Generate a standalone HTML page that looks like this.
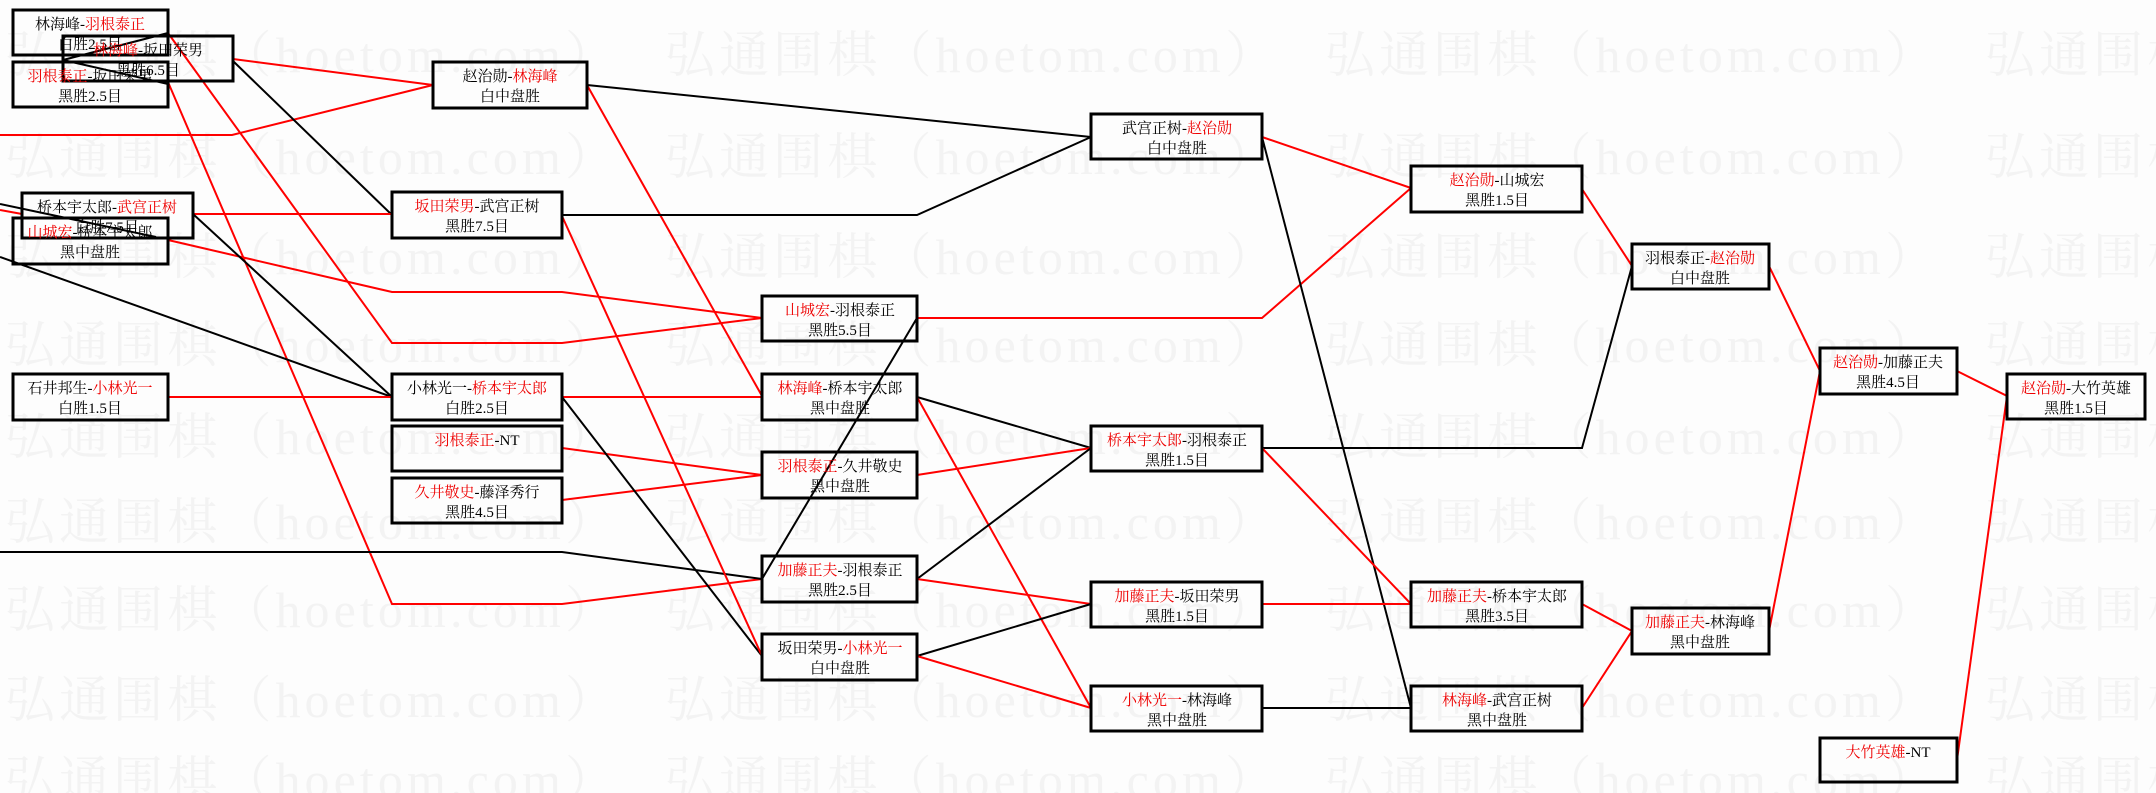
<!DOCTYPE html>
<html><head><meta charset="utf-8"><style>
html,body{margin:0;padding:0;background:#fdfdfd;}
svg{display:block}
.wm{font-family:"Liberation Serif","Noto Serif CJK SC",serif;font-size:50px;fill:#f3f3f3;}
.t{font-family:"Liberation Serif","Noto Serif CJK SC",serif;font-size:15px;fill:#000;text-anchor:middle;}
.r{fill:#ee0000}
.k{stroke:#000;stroke-width:2;fill:none}
.d{stroke:#ff0000;stroke-width:2;fill:none}
.b{stroke:#000;stroke-width:3;fill:none}
</style></head><body>
<svg width="2156" height="793" viewBox="0 0 2156 793" xmlns="http://www.w3.org/2000/svg">
<defs>
<g id="wr" class="wm">
<text x="5" y="0" textLength="610" lengthAdjust="spacing">弘通围棋（hoetom.com）</text>
<text x="665" y="0" textLength="610" lengthAdjust="spacing">弘通围棋（hoetom.com）</text>
<text x="1325" y="0" textLength="610" lengthAdjust="spacing">弘通围棋（hoetom.com）</text>
<text x="1985" y="0" textLength="610" lengthAdjust="spacing">弘通围棋（hoetom.com）</text>
</g>
</defs>
<use href="#wr" x="0" y="72"/>
<use href="#wr" x="0" y="174"/>
<use href="#wr" x="0" y="274"/>
<use href="#wr" x="0" y="362"/>
<use href="#wr" x="0" y="454"/>
<use href="#wr" x="0" y="539"/>
<use href="#wr" x="0" y="627"/>
<use href="#wr" x="0" y="717"/>
<use href="#wr" x="0" y="797"/>
<!-- connectors -->
<polyline class="k" points="168,33 63,60 168,84"/>
<polyline class="d" points="0,135 232,135 433,85"/>
<polyline class="d" points="233,59 433,85"/>
<polyline class="k" points="233,61 392,215"/>
<polyline class="d" points="168,33 392,343 562,343 762,318"/>
<polyline class="d" points="168,82 392,604 562,604 762,579"/>
<polyline class="d" points="168,240 392,292 562,292 762,318"/>
<polyline class="d" points="193,214 392,214"/>
<polyline class="k" points="193,214 392,397"/>
<polyline class="k" points="0,257 392,397"/>
<polyline class="k" points="0,204 156,237"/>
<polyline class="d" points="0,210 22,214"/>
<polyline class="d" points="168,397 392,397"/>
<polyline class="k" points="0,552 562,552 762,579"/>
<polyline class="d" points="562,448 762,475 562,500"/>
<polyline class="d" points="562,397 762,397"/>
<polyline class="k" points="562,397 762,656"/>
<polyline class="d" points="587,85 762,396"/>
<polyline class="d" points="562,216 762,656"/>
<polyline class="k" points="562,215 917,215 1091,137"/>
<polyline class="k" points="587,85 1091,137"/>
<polyline class="d" points="917,318 1262,318 1411,188"/>
<polyline class="k" points="762,579 917,318"/>
<polyline class="k" points="917,397 1091,448"/>
<polyline class="d" points="917,397 1091,708"/>
<polyline class="d" points="917,475 1091,448"/>
<polyline class="k" points="917,579 1091,448"/>
<polyline class="d" points="917,579 1091,604"/>
<polyline class="k" points="917,656 1091,604"/>
<polyline class="d" points="917,656 1091,708"/>
<polyline class="d" points="1262,137 1411,188"/>
<polyline class="k" points="1262,137 1411,708"/>
<polyline class="k" points="1262,448 1582,448 1632,266"/>
<polyline class="d" points="1262,448 1411,604"/>
<polyline class="d" points="1262,604 1411,604"/>
<polyline class="k" points="1262,708 1411,708"/>
<polyline class="d" points="1582,189 1632,266"/>
<polyline class="d" points="1582,604 1632,631 1582,708"/>
<polyline class="d" points="1769,266 1820,371 1769,631"/>
<polyline class="d" points="1957,371 2007,396 1957,760"/>
<!-- boxes -->
<g class="b">
<rect x="13" y="10" width="155" height="45"/>
<rect x="13" y="62" width="155" height="45"/>
<rect x="63" y="36" width="170" height="45"/>
<rect x="13" y="218" width="155" height="46"/>
<rect x="22" y="193" width="171" height="45"/>
<rect x="13" y="374" width="155" height="46"/>
<rect x="433" y="62" width="154" height="46"/>
<rect x="392" y="192" width="170" height="46"/>
<rect x="392" y="374" width="170" height="46"/>
<rect x="392" y="426" width="170" height="45"/>
<rect x="392" y="478" width="170" height="45"/>
<rect x="762" y="296" width="155" height="45"/>
<rect x="762" y="374" width="155" height="46"/>
<rect x="762" y="452" width="155" height="46"/>
<rect x="762" y="556" width="155" height="46"/>
<rect x="762" y="634" width="155" height="46"/>
<rect x="1091" y="114" width="171" height="45"/>
<rect x="1091" y="426" width="171" height="45"/>
<rect x="1091" y="582" width="171" height="45"/>
<rect x="1091" y="686" width="171" height="45"/>
<rect x="1411" y="166" width="171" height="46"/>
<rect x="1411" y="582" width="171" height="45"/>
<rect x="1411" y="686" width="171" height="45"/>
<rect x="1632" y="244" width="137" height="45"/>
<rect x="1632" y="608" width="137" height="46"/>
<rect x="1820" y="348" width="137" height="46"/>
<rect x="1820" y="738" width="137" height="44"/>
<rect x="2007" y="374" width="138" height="45"/>
</g>
<!-- texts -->
<g class="t">
<text x="90" y="29">林海峰-<tspan class="r">羽根泰正</tspan></text><text x="90" y="49">白胜2.5目</text>
<text x="90" y="81"><tspan class="r">羽根泰正</tspan>-坂田荣男</text><text x="90" y="101">黑胜2.5目</text>
<text x="148" y="55"><tspan class="r">林海峰</tspan>-坂田荣男</text><text x="148" y="75">黑胜6.5目</text>
<text x="90" y="237"><tspan class="r">山城宏</tspan>-桥本宇太郎</text><text x="90" y="257">黑中盘胜</text>
<text x="107" y="212">桥本宇太郎-<tspan class="r">武宫正树</tspan></text><text x="107" y="232">白胜7.5目</text>
<text x="90" y="393">石井邦生-<tspan class="r">小林光一</tspan></text><text x="90" y="413">白胜1.5目</text>
<text x="510" y="81">赵治勋-<tspan class="r">林海峰</tspan></text><text x="510" y="101">白中盘胜</text>
<text x="477" y="211"><tspan class="r">坂田荣男</tspan>-武宫正树</text><text x="477" y="231">黑胜7.5目</text>
<text x="477" y="393">小林光一-<tspan class="r">桥本宇太郎</tspan></text><text x="477" y="413">白胜2.5目</text>
<text x="477" y="445"><tspan class="r">羽根泰正</tspan>-NT</text>
<text x="477" y="497"><tspan class="r">久井敬史</tspan>-藤泽秀行</text><text x="477" y="517">黑胜4.5目</text>
<text x="840" y="315"><tspan class="r">山城宏</tspan>-羽根泰正</text><text x="840" y="335">黑胜5.5目</text>
<text x="840" y="393"><tspan class="r">林海峰</tspan>-桥本宇太郎</text><text x="840" y="413">黑中盘胜</text>
<text x="840" y="471"><tspan class="r">羽根泰正</tspan>-久井敬史</text><text x="840" y="491">黑中盘胜</text>
<text x="840" y="575"><tspan class="r">加藤正夫</tspan>-羽根泰正</text><text x="840" y="595">黑胜2.5目</text>
<text x="840" y="653">坂田荣男-<tspan class="r">小林光一</tspan></text><text x="840" y="673">白中盘胜</text>
<text x="1177" y="133">武宫正树-<tspan class="r">赵治勋</tspan></text><text x="1177" y="153">白中盘胜</text>
<text x="1177" y="445"><tspan class="r">桥本宇太郎</tspan>-羽根泰正</text><text x="1177" y="465">黑胜1.5目</text>
<text x="1177" y="601"><tspan class="r">加藤正夫</tspan>-坂田荣男</text><text x="1177" y="621">黑胜1.5目</text>
<text x="1177" y="705"><tspan class="r">小林光一</tspan>-林海峰</text><text x="1177" y="725">黑中盘胜</text>
<text x="1497" y="185"><tspan class="r">赵治勋</tspan>-山城宏</text><text x="1497" y="205">黑胜1.5目</text>
<text x="1497" y="601"><tspan class="r">加藤正夫</tspan>-桥本宇太郎</text><text x="1497" y="621">黑胜3.5目</text>
<text x="1497" y="705"><tspan class="r">林海峰</tspan>-武宫正树</text><text x="1497" y="725">黑中盘胜</text>
<text x="1700" y="263">羽根泰正-<tspan class="r">赵治勋</tspan></text><text x="1700" y="283">白中盘胜</text>
<text x="1700" y="627"><tspan class="r">加藤正夫</tspan>-林海峰</text><text x="1700" y="647">黑中盘胜</text>
<text x="1888" y="367"><tspan class="r">赵治勋</tspan>-加藤正夫</text><text x="1888" y="387">黑胜4.5目</text>
<text x="1888" y="757"><tspan class="r">大竹英雄</tspan>-NT</text>
<text x="2076" y="393"><tspan class="r">赵治勋</tspan>-大竹英雄</text><text x="2076" y="413">黑胜1.5目</text>
</g>
</svg>
</body></html>
